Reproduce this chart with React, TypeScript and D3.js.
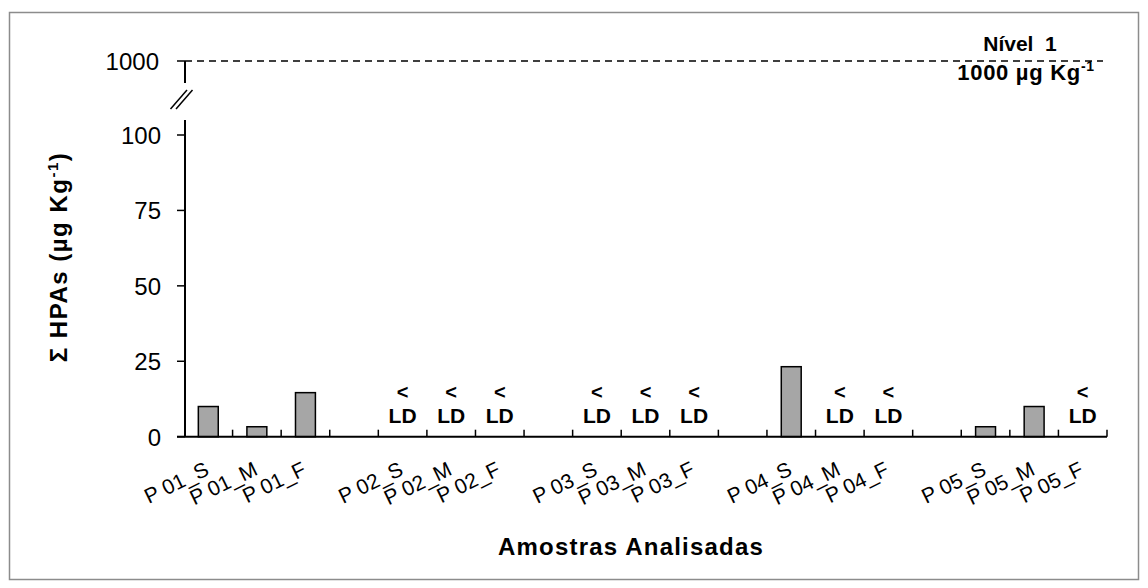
import React from "react";
import * as d3 from "d3";

// ---- data ----
const groups = ["P 01", "P 02", "P 03", "P 04", "P 05"];
const depths = ["S", "M", "F"];
const categories = groups.flatMap((g) => depths.map((d) => `${g}_${d}`));
// null = below detection limit (< LD)
const values: (number | null)[] = [
  10, 3.3, 14.6,
  null, null, null,
  null, null, null,
  23.2, null, null,
  3.3, 10, null,
];
const yTicks = [0, 25, 50, 75, 100];
const upperTick = 1000;
const limitLabel = "Nível  1";
const limitUnit = "1000 µg Kg";

const W = 1148;
const H = 588;
const FONT = "Arial, 'Liberation Sans', Helvetica, sans-serif";

export default function App() {
  // slot domain with gaps between groups
  const slots: string[] = [];
  groups.forEach((g, gi) => {
    depths.forEach((d) => slots.push(`${g}_${d}`));
    if (gi < groups.length - 1) slots.push(`gap${gi}`);
  });

  const x = d3.scaleBand<string>().domain(slots).range([184, 1107]).padding(0);
  const y = d3.scaleLinear().domain([0, 100]).range([436.7, 135]);
  const yUp = d3.scaleLinear().domain([950, 1000]).range([83, 61]);

  const axisX = 185;
  const barW = x.bandwidth() * 0.41;
  const boundaries = slots.map((s) => (x(s) as number) + x.bandwidth());

  return (
    <svg
      width={W}
      height={H}
      style={{ position: "fixed", left: 0, top: 0, background: "#fff" }}
      fontFamily={FONT}
    >
      <rect x={0} y={0} width={W} height={H} fill="#fff" />
      <rect x={9.5} y={12.5} width={1129} height={567} fill="none" stroke="#8c8c8c" strokeWidth={1.5} />

      {/* bars */}
      {categories.map((c, i) => {
        const v = values[i];
        const cx = (x(c) as number) + x.bandwidth() / 2;
        if (v === null) {
          return (
            <g key={c} fontWeight="bold" textAnchor="middle" fill="#000">
              <text x={cx} y={399} fontSize={20}>{"<"}</text>
              <text x={cx} y={423} fontSize={21}>LD</text>
            </g>
          );
        }
        return (
          <rect
            key={c}
            x={cx - barW / 2}
            y={y(v)}
            width={barW}
            height={y(0) - y(v)}
            fill="#a6a6a6"
            stroke="#000"
            strokeWidth={1.5}
          />
        );
      })}

      {/* x axis */}
      <line x1={177} x2={1107} y1={y(0)} y2={y(0)} stroke="#000" strokeWidth={2} />
      {boundaries.map((b, i) => (
        <line key={i} x1={b} x2={b} y1={y(0)} y2={y(0) - 7} stroke="#000" strokeWidth={1.5} />
      ))}

      {/* y axis lower segment */}
      <line x1={axisX} x2={axisX} y1={y(0)} y2={120} stroke="#000" strokeWidth={2} />
      {yTicks.map((t) => (
        <g key={t}>
          <line x1={177} x2={axisX} y1={y(t)} y2={y(t)} stroke="#000" strokeWidth={1.5} />
          <text x={161} y={y(t) + 9} textAnchor="end" fontSize={24} fill="#000">
            {t}
          </text>
        </g>
      ))}
      {/* upper segment */}
      <line x1={axisX} x2={axisX} y1={yUp(upperTick)} y2={yUp(950)} stroke="#000" strokeWidth={2} />
      <line x1={177} x2={axisX} y1={yUp(upperTick)} y2={yUp(upperTick)} stroke="#000" strokeWidth={1.5} />
      <text x={159} y={yUp(upperTick) + 9} textAnchor="end" fontSize={24} fill="#000">
        {upperTick}
      </text>
      {/* break marks */}
      <line x1={170.5} y1={109} x2={187} y2={90} stroke="#000" strokeWidth={1.5} />
      <line x1={176} y1={109} x2={192.5} y2={90} stroke="#000" strokeWidth={1.5} />

      {/* limit line */}
      <line
        x1={axisX}
        x2={1103}
        y1={yUp(upperTick)}
        y2={yUp(upperTick)}
        stroke="#000"
        strokeWidth={1.5}
        strokeDasharray="7,5"
      />
      <text x={1020} y={51} textAnchor="middle" fontSize={21} fontWeight="bold" style={{ whiteSpace: "pre" }}>
        {limitLabel}
      </text>
      <text x={1026} y={80} textAnchor="middle" fontSize={22} fontWeight="bold" letterSpacing={0.7}>
        {limitUnit}
        <tspan dy={-9} fontSize={14}>-1</tspan>
      </text>

      {/* x tick labels */}
      {categories.map((c) => {
        const cx = (x(c) as number) + x.bandwidth() / 2;
        const ax = cx + 2;
        const ay = 474;
        return (
          <text
            key={c}
            x={ax}
            y={ay}
            textAnchor="end"
            fontSize={21}
            transform={`rotate(-26, ${ax}, ${ay})`}
          >
            {c}
          </text>
        );
      })}

      {/* axis titles */}
      <text
        transform="translate(67,257) rotate(-90)"
        textAnchor="middle"
        fontSize={24}
        fontWeight="bold"
        letterSpacing={1.5}
      >
        Σ HPAs (µg Kg
        <tspan dy={-9} fontSize={15}>-1</tspan>
        <tspan dy={9}>)</tspan>
      </text>
      <text x={631} y={555} textAnchor="middle" fontSize={24} fontWeight="bold" letterSpacing={1.2}>
        Amostras Analisadas
      </text>
    </svg>
  );
}
